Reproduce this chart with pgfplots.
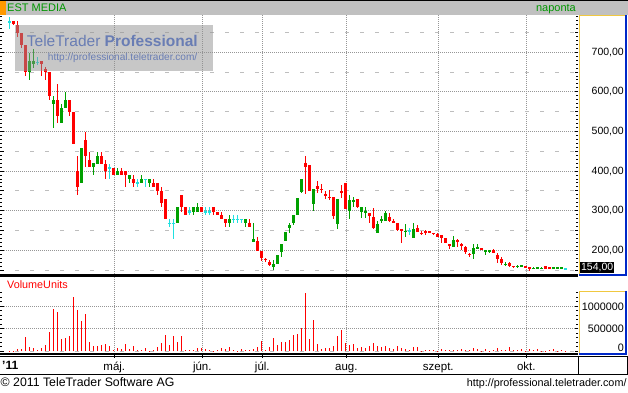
\documentclass[border=0pt]{standalone}
\usepackage{fontspec}
\setmainfont{Liberation Sans}
\usepackage{pgfplots}
\usepackage{pgfplotstable}
\pgfplotsset{compat=1.18}

\definecolor{cred}{RGB}{255,0,0}
\definecolor{cgreen}{RGB}{0,160,0}
\definecolor{ccyan}{RGB}{32,224,224}
\definecolor{hdr}{RGB}{192,192,192}
\definecolor{hdrorange}{RGB}{255,153,0}
\definecolor{hdrgreen}{RGB}{0,150,0}
\definecolor{dotgray}{RGB}{150,150,150}
\definecolor{dashgray}{RGB}{190,190,190}
\definecolor{boxyellow}{RGB}{240,200,64}
\definecolor{boxblue}{RGB}{0,40,200}
\definecolor{wmgray}{RGB}{145,145,145}
\definecolor{wmtext}{RGB}{105,125,180}
\definecolor{vred}{RGB}{255,0,0}

% n = trading day index; o h l c = open high low close
\pgfplotstableread{
n o h l c
1 779 780 770 771
2 769 779 739 748
3 748 748 710 718
4 718 718 640 651
8 678 678 640 670
9 659 662 630 651
10 651 651 580 590
12 579 620 521 539
15 579 579 540 550
16 548 548 468 468
17 400 438 340 361
19 478 499 411 438
20 428 448 411 411
23 438 448 418 418
24 418 428 380 400
26 409 409 390 390
28 400 409 390 390
29 400 400 361 390
31 380 390 361 371
36 371 380 361 361
37 371 371 340 350
38 350 361 310 320
39 330 330 279 279
43 340 340 298 309
44 309 309 289 289
48 309 309 298 298
51 309 309 289 298
52 298 298 289 289
53 289 298 279 279
54 279 279 259 269
60 269 279 259 259
62 223 234 198 198
63 198 198 173 181
64 178 181 171 177
65 171 175 160 163
74 420 438 341 411
75 415 415 350 350
77 362 375 344 355
78 355 367 344 354
79 343 350 330 337
80 335 352 327 334
81 335 335 280 287
83 350 365 331 345
84 370 370 304 304
87 330 330 306 309
90 295 295 269 287
91 284 307 254 256
95 283 294 272 275
96 275 279 270 270
97 269 269 249 251
98 252 252 218 251
102 256 264 246 246
103 244 249 238 243
104 249 251 239 243
105 249 249 243 243
106 244 244 238 243
107 241 243 233 233
108 238 238 219 230
109 231 231 219 219
110 214 214 203 213
112 226 229 209 220
113 215 219 200 212
114 209 211 190 197
115 191 193 184 190
118 207 207 201 201
121 201 203 192 192
122 188 193 167 178
123 178 182 163 168
125 169 171 158 160
126 160 161 156 159
129 161 161 156 156
130 157 157 149 156
134 160 160 154 154
135 156 158 153 155
}\redtab

\pgfplotstableread{
n o h l c
5 651 697 630 678
6 670 708 660 678
11 569 590 510 579
13 521 569 521 560
14 560 599 560 579
18 371 458 371 458
21 411 420 390 420
22 418 448 418 438
27 390 409 390 400
30 380 390 371 390
33 371 390 371 380
35 371 380 361 380
42 269 309 269 309
46 298 309 289 309
47 298 319 298 309
55 269 289 259 279
59 269 279 259 279
61 222 269 222 228
66 157 175 150 165
67 165 188 165 188
68 195 215 184 215
69 223 245 223 245
70 257 269 243 264
71 269 289 264 289
72 289 331 289 331
73 348 379 344 379
76 318 354 300 354
82 267 330 254 330
85 299 340 279 327
86 325 335 309 326
88 298 309 281 309
89 294 309 281 300
92 244 274 244 266
93 275 287 269 280
94 275 300 275 294
99 248 266 233 249
101 232 269 232 254
111 209 236 209 227
116 190 216 177 205
117 206 216 204 207
119 198 201 187 199
120 198 201 194 199
124 164 170 160 165
127 159 163 156 160
128 160 163 158 161
131 154 157 152 155
132 155 159 154 156
133 154 158 153 155
136 155 158 153 156
137 155 156 155 156
138 155 158 153 156
}\greentab

\pgfplotstableread{
n o h l c
0 777 790 760 777
7 675 687 667 675
25 409 418 380 409
32 371 380 361 371
34 380 380 361 380
40 268 279 259 268
41 268 279 228 268
45 298 309 289 298
49 298 309 289 298
50 298 309 289 298
56 279 289 269 279
57 279 289 269 279
58 279 279 269 279
100 249 257 239 249
139 154 156 152 154
}\cyantab

\pgfplotstableread{
n v
0 7000
1 7000
2 52000
3 52000
4 318000
5 96000
6 74000
7 37000
8 74000
9 141000
10 430000
11 941000
12 874000
13 274000
14 304000
15 341000
16 1207000
17 918000
18 674000
19 830000
20 207000
21 119000
22 119000
23 141000
24 163000
25 119000
26 37000
27 74000
28 52000
29 163000
30 52000
31 119000
32 30000
33 30000
34 74000
35 15000
36 30000
37 96000
38 185000
39 363000
40 141000
41 341000
42 207000
43 341000
44 30000
45 30000
46 30000
47 74000
48 74000
49 52000
50 30000
51 15000
52 30000
53 74000
54 52000
55 96000
56 30000
57 15000
58 52000
59 30000
60 30000
61 52000
62 96000
63 230000
64 30000
65 96000
66 296000
67 141000
68 207000
69 207000
70 252000
71 363000
72 385000
73 518000
74 1296000
75 274000
76 696000
77 163000
78 52000
79 74000
80 74000
81 119000
82 341000
83 474000
84 185000
85 141000
86 163000
87 74000
88 96000
89 74000
90 119000
91 185000
92 119000
93 96000
94 119000
95 74000
96 52000
97 119000
98 74000
99 52000
100 30000
101 96000
102 96000
103 7000
104 30000
105 30000
106 30000
107 15000
108 52000
109 30000
110 30000
111 30000
112 30000
113 52000
114 30000
115 30000
116 74000
117 52000
118 15000
119 52000
120 15000
121 30000
122 74000
123 30000
124 30000
125 96000
126 30000
127 30000
128 52000
129 15000
130 52000
131 30000
132 52000
133 15000
134 15000
135 30000
136 52000
137 15000
138 30000
139 15000
}\voltab

\pgfplotsset{
  candlewick/.style={draw=none, mark=none, forget plot,
    error bars/.cd, y dir=both, y explicit, error mark=none,
    error bar style={draw=#1, solid, line width=1pt}},
  candlebody/.style={draw=none, mark=none, forget plot,
    error bars/.cd, y dir=both, y explicit, error mark=none,
    error bar style={draw=#1, solid, line width=3pt}},
}

\begin{document}
\begin{tikzpicture}[x=1pt,y=1pt]
\useasboundingbox (0,0) rectangle (628,392);
\fill[white] (0,0) rectangle (628,392);
% header bar
\fill[hdr] (0,377) rectangle (628,392);
\draw[black,line width=1pt] (0,391.5) -- (628,391.5);
\fill[hdrorange] (0,377) rectangle (5.5,391);
\node[anchor=base west, inner sep=0pt, text=hdrgreen, font=\fontsize{11}{13}\selectfont] at (7,380.5) {EST MEDIA};
\node[anchor=base east, inner sep=0pt, text=hdrgreen, font=\fontsize{11}{13}\selectfont] at (576,380.5) {naponta};

% price panel
\begin{axis}[
  at={(0pt,118pt)}, anchor=south west, width=578pt, height=259pt, scale only axis,
  xmin=-2.325, xmax=142.175, ymin=140.2, ymax=794.1,
  axis line style={draw=none}, clip=false,
  xtick={26.25,48.25,63.25,84.25,107.25,129.25}, xticklabels={}, xmajorticks=false, xmajorgrids,
  ytick={200,300,...,700}, minor ytick={150,160,...,790}, ymajorgrids,
  extra y ticks={150,250,...,750}, extra y tick labels={},
  extra y tick style={ymajorgrids=true, major grid style={dashgray, dash pattern=on 4pt off 11pt, line width=1pt}},
  yticklabel pos=right, tick align=inside,
  major tick length=3.5pt, minor tick length=2pt,
  tick style={black, line width=1pt},
  major grid style={dotgray, dash pattern=on 1pt off 1pt, line width=1pt},
  yticklabel={\pgfmathprintnumber[fixed,fixed zerofill,precision=2,use comma,assume math mode=true]{\tick}},
  yticklabel style={anchor=east, inner sep=0pt, xshift=46pt, font=\fontsize{10.5}{12}\selectfont},
]
\addplot[candlewick=cred] table[x=n, y expr={(\thisrow{h}+\thisrow{l})/2}, y error expr={(\thisrow{h}-\thisrow{l})/2}] {\redtab};
\addplot[candlebody=cred] table[x=n, y expr={(\thisrow{o}+\thisrow{c})/2}, y error expr={max(abs(\thisrow{o}-\thisrow{c})/2,1.27)}] {\redtab};
\addplot[candlewick=cgreen] table[x=n, y expr={(\thisrow{h}+\thisrow{l})/2}, y error expr={(\thisrow{h}-\thisrow{l})/2}] {\greentab};
\addplot[candlebody=cgreen] table[x=n, y expr={(\thisrow{o}+\thisrow{c})/2}, y error expr={max(abs(\thisrow{o}-\thisrow{c})/2,1.27)}] {\greentab};
\addplot[candlewick=ccyan] table[x=n, y expr={(\thisrow{h}+\thisrow{l})/2}, y error expr={(\thisrow{h}-\thisrow{l})/2}] {\cyantab};
\addplot[candlebody=ccyan] table[x=n, y expr={(\thisrow{o}+\thisrow{c})/2}, y error expr={max(abs(\thisrow{o}-\thisrow{c})/2,1.27)}] {\cyantab};
% watermark
\fill[wmgray, opacity=0.5] (axis cs:1.425,652.8) rectangle (axis cs:50.925,768.9);
\node[anchor=base west, inner sep=0pt, text=wmtext, font=\fontsize{15.5}{17}\selectfont] at (axis cs:4.35,714.1) {TeleTrader \textbf{Professional}};
\node[anchor=base east, inner sep=0pt, text=wmtext, font=\fontsize{10.1}{12}\selectfont] at (axis cs:47.05,678) {http://professional.teletrader.com/};
% last price tag
\node[fill=black, text=white, inner sep=0pt, minimum width=34pt, minimum height=11pt, anchor=west, xshift=2pt, font=\fontsize{10.5}{12}\selectfont] at (axis cs:142.175,155.8) {154,00};
\end{axis}

% volume panel
\begin{axis}[
  at={(0pt,38pt)}, anchor=south west, width=578pt, height=78pt, scale only axis,
  xmin=-2.325, xmax=142.175, ymin=-60000, ymax=1673333,
  axis line style={draw=none}, clip=false,
  xtick={26.25,48.25,63.25,84.25,107.25,129.25}, xticklabels={máj.,jún.,júl.,aug.,szept.,okt.},
  xtick pos=bottom, xtick align=outside, xmajorgrids,
  xticklabel style={anchor=base, inner sep=0pt, yshift=-13.2pt, font=\fontsize{11.5}{13}\selectfont},
  ytick={500000,1000000}, yticklabels={500000,1000000}, minor ytick={100000,200000,...,1300000}, ymajorgrids,
  extra y ticks={0}, extra y tick labels={\raisebox{8pt}{0}},
  extra y tick style={ymajorgrids=true, major grid style={dashgray, dash pattern=on 4pt off 11pt, line width=1pt}},
  scaled y ticks=false,
  yticklabel pos=right, ytick align=inside,
  major tick length=3.5pt, minor tick length=2pt,
  tick style={black, line width=1pt},
  major grid style={dotgray, dash pattern=on 1pt off 1pt, line width=1pt},
  yticklabel style={anchor=east, inner sep=0pt, xshift=46pt, font=\fontsize{10.8}{12}\selectfont},
]
\addplot[ycomb, vred, line width=1.4pt, mark=none] table[x=n, y=v] {\voltab};
\end{axis}

% panel separators and boxes
\fill[black] (0,115.3) rectangle (578,118);
\draw[boxyellow, line width=1pt] (579.5,117) -- (579.5,376.5) -- (626,376.5);
\draw[boxblue, line width=2pt] (626,377) -- (626,117.5) -- (579,117.5);
\draw[boxyellow, line width=1pt] (579.5,39) -- (579.5,100.7) -- (626,100.7);
\draw[boxblue, line width=2pt] (626,101.2) -- (626,38.5) -- (579,38.5);
\node[anchor=base west, inner sep=0pt, text=cred, font=\fontsize{10.8}{12}\selectfont] at (7,103.7) {VolumeUnits};

% date strip
\fill[black] (0,37) rectangle (578,38.7);
\draw[black, line width=1pt] (0,35.7) -- (628,35.7);
\draw[black, line width=1pt] (0,18) -- (628,18);
\draw[black, line width=1pt] (578.5,35.7) -- (578.5,18);
\draw[black, line width=1pt] (627,35.7) -- (627,18);
\node[anchor=base west, inner sep=0pt, font=\bfseries\fontsize{12}{14}\selectfont] at (2,22.7) {'11};

% footer
\node[anchor=base west, inner sep=0pt, font=\fontsize{12.3}{14}\selectfont] at (0.5,5.3) {\textcopyright\ 2011 TeleTrader Software AG};
\node[anchor=base east, inner sep=0pt, font=\fontsize{10.8}{12}\selectfont] at (626.7,6) {http://professional.teletrader.com/};
\end{tikzpicture}
\end{document}
